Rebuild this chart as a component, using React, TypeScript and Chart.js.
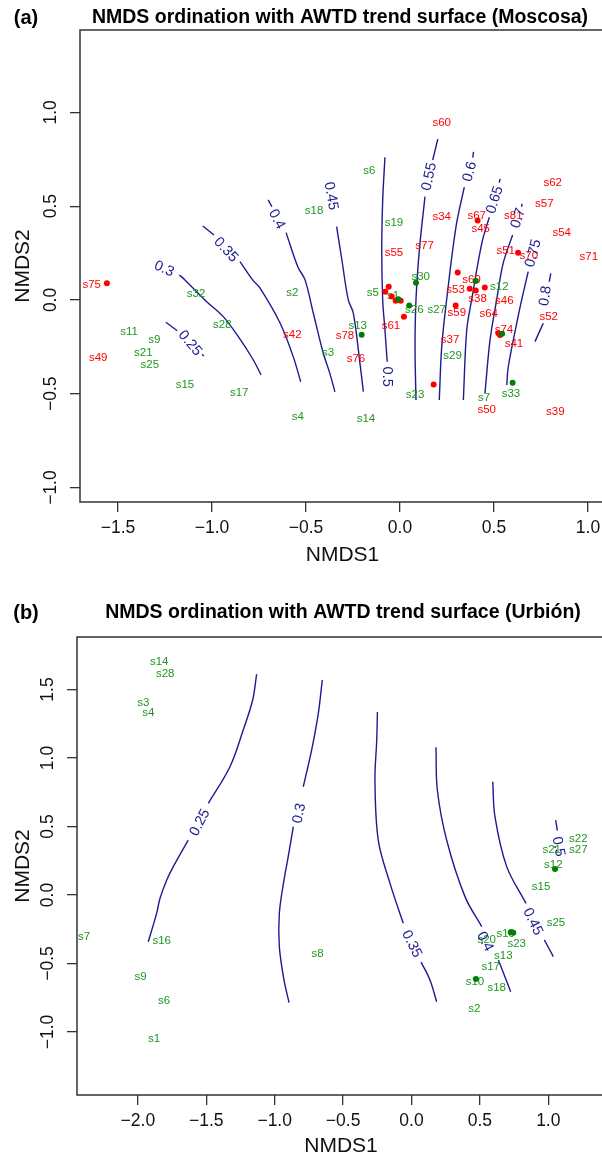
import React, { useEffect, useRef } from 'react';
import { Chart, registerables } from 'chart.js';

Chart.register(...registerables);

const FONT = '"Liberation Sans", Arial, Helvetica, sans-serif';
const NAVY = '#1c1c8f';
const RED = '#ff0000';
const GREEN_TXT = '#209620';
const GREEN_DOT = '#007f00';
const AXIS = '#333333';

// ---------------- Panel (a) : Moscosa ----------------
const titleA = 'NMDS ordination with AWTD trend surface (Moscosa)';
const xTicksA = [-1.5, -1.0, -0.5, 0.0, 0.5, 1.0];
const xTickLabelsA = ['\u22121.5', '\u22121.0', '\u22120.5', '0.0', '0.5', '1.0'];
const yTicksA = [-1.0, -0.5, 0.0, 0.5, 1.0];
const yTickLabelsA = ['\u22121.0', '\u22120.5', '0.0', '0.5', '1.0'];

const redNamesA = ['s75', 's49', 's42', 's60', 's62', 's57', 's34', 's67', 's81', 's45', 's54', 's77', 's55', 's51', 's70', 's71', 's53', 's69', 's38', 's46', 's59', 's64', 's52', 's61', 's78', 's74', 's37', 's41', 's76', 's50', 's39'];
const redXA = [-1.640, -1.605, -0.573, 0.222, 0.812, 0.768, 0.222, 0.408, 0.603, 0.429, 0.860, 0.131, -0.032, 0.562, 0.685, 1.004, 0.296, 0.381, 0.413, 0.555, 0.302, 0.472, 0.791, -0.048, -0.293, 0.553, 0.266, 0.606, -0.234, 0.461, 0.826];
const redYA = [0.080, -0.311, -0.188, 0.945, 0.627, 0.515, 0.441, 0.451, 0.451, 0.377, 0.356, 0.288, 0.249, 0.263, 0.236, 0.231, 0.052, 0.107, 0.004, -0.005, -0.071, -0.076, -0.092, -0.140, -0.192, -0.160, -0.213, -0.235, -0.316, -0.586, -0.599];

const greenNamesA = ['s18', 's32', 's2', 's6', 's19', 's30', 's12', 's5', 's1', 's26', 's27', 's13', 's29', 's3', 's23', 's7', 's33', 's14', 's28', 's11', 's9', 's21', 's25', 's15', 's17', 's4'];
const greenXA = [-0.457, -1.085, -0.573, -0.163, -0.032, 0.110, 0.528, -0.145, -0.037, 0.076, 0.195, -0.225, 0.280, -0.383, 0.080, 0.447, 0.590, -0.181, -0.945, -1.441, -1.307, -1.365, -1.331, -1.144, -0.855, -0.543];
const greenYA = [0.474, 0.030, 0.036, 0.686, 0.409, 0.121, 0.068, 0.039, 0.021, -0.050, -0.050, -0.140, -0.299, -0.283, -0.508, -0.524, -0.503, -0.636, -0.130, -0.172, -0.215, -0.284, -0.348, -0.455, -0.497, -0.625];

const redDotXA = [-1.559, 0.413, 0.628, 0.307, 0.371, 0.403, 0.451, -0.060, -0.078, -0.044, -0.023, 0.004, 0.021, 0.296, 0.523, 0.532, 0.179];
const redDotYA = [0.089, 0.423, 0.252, 0.146, 0.060, 0.050, 0.066, 0.071, 0.044, 0.018, -0.004, -0.004, -0.089, -0.030, -0.178, -0.187, -0.451];
const greenDotXA = [0.085, 0.403, -0.009, 0.049, -0.204, 0.543, 0.599];
const greenDotYA = [0.092, 0.101, 0.004, -0.030, -0.185, -0.180, -0.441];

// contour lines (AWTD levels), each a list of segments of [NMDS1, NMDS2]
const contourA025 = [[[-1.245, -0.119], [-1.185, -0.164]], [[-1.052, -0.290], [-1.043, -0.299]]];
const contourA030 = [[[-1.174, 0.133], [-1.144, 0.107], [-1.028, -0.009], [-0.940, -0.089], [-0.860, -0.196], [-0.780, -0.320], [-0.739, -0.400]]];
const contourA035 = [[[-1.049, 0.394], [-0.989, 0.346]], [[-0.851, 0.204], [-0.784, 0.107], [-0.745, 0.064], [-0.638, -0.123], [-0.568, -0.302], [-0.528, -0.436]]];
const contourA040 = [[[-0.701, 0.533], [-0.681, 0.497]], [[-0.606, 0.359], [-0.543, 0.176], [-0.505, 0.107], [-0.461, -0.071], [-0.408, -0.284], [-0.376, -0.382], [-0.346, -0.490]]];
const contourA045 = [[[-0.337, 0.391], [-0.309, 0.213], [-0.275, 0.0], [-0.248, -0.071], [-0.213, -0.337], [-0.195, -0.489]]];
const contourA050 = [[[-0.080, 0.761], [-0.092, 0.533], [-0.097, 0.267], [-0.092, 0.0], [-0.080, -0.160], [-0.068, -0.329]]];
const contourA055 = [[[0.201, 0.857], [0.174, 0.746]], [[0.133, 0.551], [0.103, 0.267], [0.085, 0.0], [0.080, -0.249], [0.085, -0.533]]];
const contourA060 = [[[0.391, 0.789], [0.387, 0.759]], [[0.342, 0.601], [0.298, 0.391], [0.248, 0.0], [0.222, -0.249], [0.209, -0.533]]];
const contourA065 = [[[0.532, 0.645], [0.528, 0.625]], [[0.475, 0.441], [0.435, 0.302], [0.381, 0.0], [0.355, -0.160], [0.337, -0.533]]];
const contourA070 = [[[0.650, 0.512], [0.646, 0.497]], [[0.599, 0.346], [0.549, 0.196], [0.514, 0.0], [0.479, -0.213], [0.452, -0.497]]];
const contourA075 = [[[0.682, 0.151], [0.647, 0.0], [0.621, -0.124], [0.576, -0.356], [0.568, -0.453]]];
const contourA080 = [[[0.802, 0.142], [0.794, 0.098]], [[0.762, -0.124], [0.718, -0.222]]];

const contourLabelTextA = ['0.25', '0.3', '0.35', '0.4', '0.45', '0.5', '0.55', '0.6', '0.65', '0.7', '0.75', '0.8'];
const contourLabelXA = [-1.117, -1.255, -0.927, -0.656, -0.367, -0.068, 0.156, 0.372, 0.505, 0.629, 0.709, 0.774];
const contourLabelYA = [-0.231, 0.165, 0.267, 0.430, 0.554, -0.409, 0.657, 0.684, 0.533, 0.436, 0.249, 0.021];
const contourLabelAngleA = [50, 24, 47, 62, 80, 90, -78, -74, -72, -72, -75, -82];

// ---------------- Panel (b) : Urbión ----------------
const titleB = 'NMDS ordination with AWTD trend surface (Urbi\u00f3n)';
const xTicksB = [-2.0, -1.5, -1.0, -0.5, 0.0, 0.5, 1.0];
const xTickLabelsB = ['\u22122.0', '\u22121.5', '\u22121.0', '\u22120.5', '0.0', '0.5', '1.0'];
const yTicksB = [-1.0, -0.5, 0.0, 0.5, 1.0, 1.5];
const yTickLabelsB = ['\u22121.0', '\u22120.5', '0.0', '0.5', '1.0', '1.5'];

const greenNamesB = ['s14', 's28', 's3', 's4', 's7', 's16', 's9', 's6', 's1', 's8', 's22', 's21', 's27', 's12', 's15', 's25', 's19', 's20', 's23', 's13', 's17', 's10', 's18', 's2'];
const greenXB = [-1.844, -1.800, -1.961, -1.924, -2.394, -1.826, -1.980, -1.809, -1.882, -0.686, 1.219, 1.025, 1.219, 1.037, 0.947, 1.056, 0.689, 0.550, 0.769, 0.671, 0.579, 0.464, 0.623, 0.459];
const greenYB = [1.703, 1.613, 1.399, 1.326, -0.309, -0.336, -0.601, -0.774, -1.053, -0.431, 0.409, 0.328, 0.333, 0.219, 0.061, -0.202, -0.280, -0.324, -0.353, -0.445, -0.528, -0.637, -0.681, -0.834];
const greenDotXB = [1.049, 0.725, 0.744, 0.471];
const greenDotYB = [0.190, -0.272, -0.275, -0.613];

const contourB025 = [[[-1.132, 1.611], [-1.161, 1.423], [-1.230, 1.204], [-1.327, 0.936], [-1.485, 0.669]], [[-1.632, 0.401], [-1.741, 0.207], [-1.789, 0.109], [-1.838, -0.024], [-1.863, -0.134], [-1.924, -0.341]]];
const contourB030 = [[[-0.652, 1.569], [-0.681, 1.326], [-0.730, 1.058], [-0.791, 0.790]], [[-0.864, 0.499], [-0.901, 0.280], [-0.932, 0.109], [-0.966, -0.134], [-0.966, -0.377], [-0.932, -0.620], [-0.895, -0.786]]];
const contourB035 = [[[-0.249, 1.336], [-0.254, 1.131], [-0.267, 0.839], [-0.243, 0.401], [-0.157, 0.085], [-0.060, -0.207]], [[0.070, -0.490], [0.135, -0.620], [0.184, -0.779]]];
const contourB040 = [[[0.179, 1.078], [0.189, 0.766], [0.257, 0.401], [0.391, -0.012], [0.513, -0.231]], [[0.635, -0.474], [0.725, -0.706]]];
const contourB045 = [[[0.594, 0.827], [0.610, 0.572], [0.696, 0.207], [0.837, -0.061]], [[0.971, -0.328], [1.037, -0.450]]];
const contourB050 = [[[1.054, 0.547], [1.066, 0.469]]];

const contourLabelTextB = ['0.25', '0.3', '0.35', '0.4', '0.45', '0.5'];
const contourLabelXB = [-1.546, -0.820, 0.001, 0.537, 0.886, 1.073];
const contourLabelYB = [0.528, 0.596, -0.358, -0.341, -0.195, 0.353];
const contourLabelAngleB = [-62, -78, 64, 63, 64, 80];

type LabelSet = { names: string[]; xs: number[]; ys: number[]; color: string };

interface PanelCfg {
  tag: string;
  title: string;
  titleX: number;
  titleY: number;
  padTop: number;
  yAxisW: number;
  xAxisH: number;
  xMin: number; xMax: number; yMin: number; yMax: number;
  xTicks: number[]; xTickLabels: string[];
  yTicks: number[]; yTickLabels: string[];
  xTitlePad: number;
  labels: LabelSet[];
  redDots: { x: number; y: number }[];
  greenDots: { x: number; y: number }[];
  contours: number[][][][];
  cText: string[]; cX: number[]; cY: number[]; cAng: number[];
}

const zip = (xs: number[], ys: number[]) => xs.map((x, i) => ({ x, y: ys[i] }));

const panelA: PanelCfg = {
  tag: '(a)', title: titleA, titleX: 340, titleY: 18,
  padTop: 30, yAxisW: 80, xAxisH: 78,
  xMin: -1.702, xMax: 1.0904, yMin: -1.077, yMax: 1.439,
  xTicks: xTicksA, xTickLabels: xTickLabelsA, yTicks: yTicksA, yTickLabels: yTickLabelsA,
  xTitlePad: 12.4,
  labels: [
    { names: greenNamesA, xs: greenXA, ys: greenYA, color: GREEN_TXT },
    { names: redNamesA, xs: redXA, ys: redYA, color: RED },
  ],
  redDots: zip(redDotXA, redDotYA),
  greenDots: zip(greenDotXA, greenDotYA),
  contours: [contourA025, contourA030, contourA035, contourA040, contourA045, contourA050, contourA055, contourA060, contourA065, contourA070, contourA075, contourA080],
  cText: contourLabelTextA, cX: contourLabelXA, cY: contourLabelYA, cAng: contourLabelAngleA,
};

const panelB: PanelCfg = {
  tag: '(b)', title: titleB, titleX: 343, titleY: 33,
  padTop: 57, yAxisW: 77, xAxisH: 65,
  xMin: -2.445, xMax: 1.4145, yMin: -1.460, yMax: 1.883,
  xTicks: xTicksB, xTickLabels: xTickLabelsB, yTicks: yTicksB, yTickLabels: yTickLabelsB,
  xTitlePad: 1,
  labels: [{ names: greenNamesB, xs: greenXB, ys: greenYB, color: GREEN_TXT }],
  redDots: [],
  greenDots: zip(greenDotXB, greenDotYB),
  contours: [contourB025, contourB030, contourB035, contourB040, contourB045, contourB050],
  cText: contourLabelTextB, cX: contourLabelXB, cY: contourLabelYB, cAng: contourLabelAngleB,
};

const CW = 640;
const CH = 580;

function buildChart(canvas: HTMLCanvasElement, p: PanelCfg) {
  const datasets: any[] = [
    { data: p.greenDots, pointRadius: 3, pointHoverRadius: 3, pointBackgroundColor: GREEN_DOT, pointBorderWidth: 0, showLine: false },
    { data: p.redDots, pointRadius: 3, pointHoverRadius: 3, pointBackgroundColor: RED, pointBorderWidth: 0, showLine: false },
  ];
  p.contours.forEach((c) => {
    c.forEach((seg) => {
      datasets.push({
        data: seg.map((q) => ({ x: q[0], y: q[1] })),
        showLine: true,
        borderColor: NAVY,
        borderWidth: 1.4,
        pointRadius: 0,
        pointHoverRadius: 0,
        tension: 0.35,
        fill: false,
      });
    });
  });

  const decor = {
    id: 'decor',
    beforeDatasetDraw(chart: any, args: any) {
      if (args.index !== 1) return;
      const { ctx, scales } = chart;
      const xs = scales.x;
      const ys = scales.y;
      ctx.save();
      ctx.textAlign = 'center';
      ctx.textBaseline = 'middle';
      ctx.font = `11.5px ${FONT}`;
      p.labels.forEach((set) => {
        ctx.fillStyle = set.color;
        set.names.forEach((n, i) => {
          ctx.fillText(n, xs.getPixelForValue(set.xs[i]), ys.getPixelForValue(set.ys[i]));
        });
      });
      ctx.font = `14.5px ${FONT}`;
      ctx.fillStyle = NAVY;
      p.cText.forEach((t, i) => {
        ctx.save();
        ctx.translate(xs.getPixelForValue(p.cX[i]), ys.getPixelForValue(p.cY[i]));
        ctx.rotate((p.cAng[i] * Math.PI) / 180);
        ctx.fillText(t, 0, 0);
        ctx.restore();
      });
      ctx.restore();
    },
    afterDraw(chart: any) {
      const { ctx, chartArea } = chart;
      ctx.save();
      ctx.strokeStyle = AXIS;
      ctx.lineWidth = 1.5;
      ctx.strokeRect(chartArea.left, chartArea.top, chartArea.right - chartArea.left, chartArea.bottom - chartArea.top);
      ctx.fillStyle = '#000';
      ctx.textBaseline = 'middle';
      ctx.font = `bold 19.5px ${FONT}`;
      ctx.textAlign = 'center';
      ctx.fillText(p.title, p.titleX, p.titleY);
      ctx.font = `bold 20px ${FONT}`;
      ctx.fillText(p.tag, 26, p.titleY);
      ctx.restore();
    },
  };

  return new Chart(canvas, {
    type: 'scatter',
    data: { datasets },
    options: {
      responsive: false,
      maintainAspectRatio: false,
      devicePixelRatio: 1,
      animation: false,
      events: [],
      layout: { padding: { top: p.padTop, left: 0, right: CW - 605, bottom: 0 } },
      plugins: { legend: { display: false }, tooltip: { enabled: false }, title: { display: false } },
      scales: {
        x: {
          type: 'linear',
          position: 'bottom',
          min: p.xMin,
          max: p.xMax,
          afterBuildTicks: (s: any) => { s.ticks = p.xTicks.map((v) => ({ value: v })); },
          afterFit: (s: any) => { s.height = p.xAxisH; },
          grid: { display: true, drawOnChartArea: false, drawTicks: true, tickLength: 10, color: AXIS, lineWidth: 1.3 },
          border: { display: false },
          ticks: {
            autoSkip: false,
            maxRotation: 0,
            minRotation: 0,
            padding: 5.5,
            color: '#111',
            font: { family: FONT, size: 17.5 },
            callback: (_v: any, i: number) => p.xTickLabels[i],
          },
          title: { display: true, text: 'NMDS1', color: '#111', font: { family: FONT, size: 21 }, padding: { top: 0, bottom: p.xTitlePad } },
        },
        y: {
          type: 'linear',
          position: 'left',
          min: p.yMin,
          max: p.yMax,
          afterBuildTicks: (s: any) => { s.ticks = p.yTicks.map((v) => ({ value: v })); },
          afterFit: (s: any) => { s.width = p.yAxisW; },
          grid: { display: true, drawOnChartArea: false, drawTicks: true, tickLength: 10, color: AXIS, lineWidth: 1.3 },
          border: { display: false },
          ticks: {
            autoSkip: false,
            minRotation: 90,
            maxRotation: 90,
            crossAlign: 'center',
            padding: 2,
            color: '#111',
            font: { family: FONT, size: 17.5 },
            callback: (_v: any, i: number) => p.yTickLabels[i],
          },
          title: { display: true, text: 'NMDS2', color: '#111', font: { family: FONT, size: 21 }, padding: { top: 10.5, bottom: 0 } },
        },
      },
    } as any,
    plugins: [decor],
  });
}

function Panel({ cfg, top }: { cfg: PanelCfg; top: number }) {
  const ref = useRef<HTMLCanvasElement | null>(null);
  useEffect(() => {
    if (!ref.current) return;
    const chart = buildChart(ref.current, cfg);
    return () => chart.destroy();
  }, [cfg]);
  return (
    <canvas
      ref={ref}
      width={CW}
      height={CH}
      style={{ position: 'absolute', left: 0, top, width: CW, height: CH }}
    />
  );
}

export default function App() {
  return (
    <div style={{ position: 'absolute', left: 0, top: 0, width: 602, height: 1160, overflow: 'hidden', background: '#ffffff' }}>
      <Panel cfg={panelA} top={0} />
      <Panel cfg={panelB} top={580} />
    </div>
  );
}
